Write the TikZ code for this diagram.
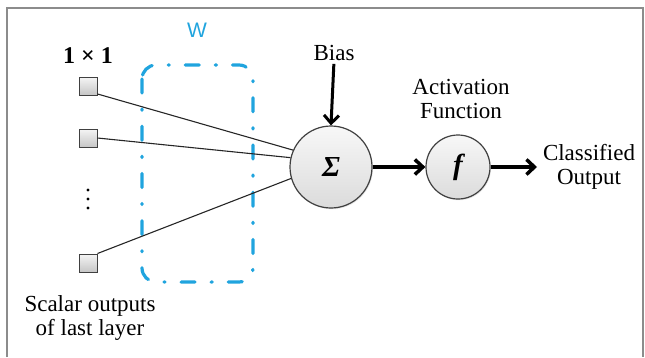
\documentclass[tikz,border=0pt]{standalone}
\usepackage{fontspec}
\setmainfont{Liberation Serif}
\newfontfamily\wfont{Liberation Sans}
\usetikzlibrary{arrows.meta,shadows}
\definecolor{wblue}{RGB}{32,164,222}
\definecolor{framegray}{RGB}{140,140,140}
\begin{document}
\begin{tikzpicture}[x=1pt,y=-1pt,
  lbl/.style={font=\fontsize{23}{24.5}\selectfont, align=center, inner sep=0pt},
  inbox/.style={draw=black!75, line width=1pt, minimum size=18pt, inner sep=0pt,
    top color=gray!8, bottom color=gray!45,
    drop shadow={opacity=0.3, shadow xshift=0.8pt, shadow yshift=-0.8pt}},
  unit/.style={circle, draw=black!75, line width=1.2pt, inner sep=0pt,
    top color=gray!6, bottom color=gray!28,
    drop shadow={opacity=0.2, shadow xshift=1pt, shadow yshift=-1.2pt}},
  wire/.style={line width=1.1pt, black!85},
  flow/.style={line width=3.5pt, -{Straight Barb[length=8pt,width=15pt]}},
  wbox/.style={wblue, line width=3.2pt, line cap=round, rounded corners=14pt,
    dash pattern=on 14pt off 16pt on 1.2pt off 16pt}
]
\useasboundingbox (0,0) rectangle (645,357);
% outer frame (open at the bottom)
\draw[framegray, line width=2pt] (7,357) -- (7,7.5) -- (643,7.5) -- (643,357);

% weight box
\draw[wbox] (142,65) rectangle (253,282);
\node[font=\wfont\fontsize{21}{21}\selectfont, text=wblue, inner sep=0pt] (w) at (197,30) {W};

% inputs
\node[lbl, font=\fontsize{24}{24}\selectfont\bfseries] (one) at (88,56) {1 × 1};
\node[inbox] (s1) at (88,86) {};
\node[inbox] (s2) at (88,138) {};
\node[inbox] (s3) at (88,263) {};
% vertical ellipsis between the inputs
\foreach \yy in {190,199,208} \fill (88,\yy) circle (1.7pt);
\node[lbl] (sc) at (90,318) {Scalar outputs\\of last layer};

% summation and activation units
\node[unit, minimum size=82pt] (sig) at (331,167) {\fontsize{29}{29}\selectfont\bfseries\itshape Σ};
\node[unit, minimum size=64pt] (fn) at (458,167) {\fontsize{29}{29}\selectfont\bfseries\itshape f};
\node[lbl] (bias) at (334,53) {Bias};
\node[lbl] (act) at (461,99) {Activation\\Function};
\node[lbl] (cls) at (589,167) {Classified\\Output};
\coordinate (out) at (537,167);

% connections
\draw[wire] (s1.-40) -- (sig.156);
\draw[wire] (s2.east) -- (sig.167);
\draw[wire] (s3.north east) -- (sig.196);
\draw[flow, line width=3pt, shorten <=3pt] (bias.south) -- (sig.north);
\draw[flow] (sig.east) -- (fn.west);
\draw[flow] (fn.east) -- (out);
\end{tikzpicture}
\end{document}
